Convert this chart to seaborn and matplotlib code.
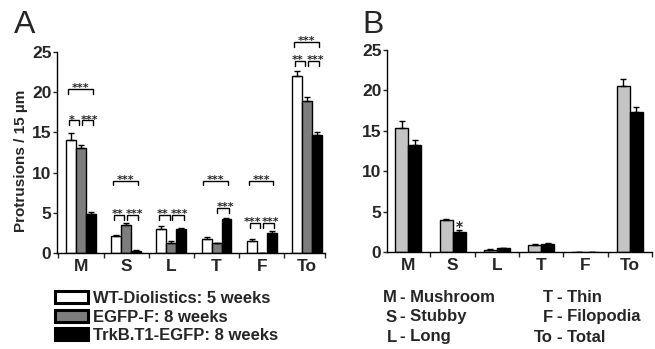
import matplotlib
matplotlib.use("Agg")
import matplotlib.pyplot as plt
from matplotlib.patches import Patch
from matplotlib.container import BarContainer
import seaborn as sns
import pandas as pd
import numpy as np

# ---------------- data ----------------
categories = ["M", "S", "L", "T", "F", "To"]

groupsA = ["WT-Diolistics: 5 weeks", "EGFP-F: 8 weeks", "TrkB.T1-EGFP: 8 weeks"]
wt_vals = [14.0, 2.1, 3.0, 1.8, 1.5, 22.0]
wt_err = [0.9, 0.2, 0.3, 0.25, 0.3, 0.6]
egfp_vals = [13.0, 3.5, 1.3, 1.2, 0.05, 18.9]
egfp_err = [0.4, 0.2, 0.2, 0.1, 0.0, 0.5]
trkb_vals = [4.9, 0.3, 3.0, 4.2, 2.5, 14.7]
trkb_err = [0.2, 0.05, 0.1, 0.2, 0.2, 0.3]

groupsB = ["B1", "B2"]
b1_vals = [15.4, 3.9, 0.3, 0.9, 0.0, 20.6]
b1_err = [0.8, 0.2, 0.05, 0.1, 0.0, 0.8]
b2_vals = [13.2, 2.5, 0.5, 1.0, 0.05, 17.3]
b2_err = [0.7, 0.2, 0.05, 0.15, 0.0, 0.6]

# significance brackets for panel A: (category, bar i, bar j, level, label)
bracketsA = [
    ("M", 0, 1, 16.5, "*"), ("M", 1, 2, 16.5, "***"), ("M", 0, 2, 20.4, "***"),
    ("S", 0, 1, 4.75, "**"), ("S", 1, 2, 4.75, "***"), ("S", 0, 2, 9.0, "***"),
    ("L", 0, 1, 4.75, "**"), ("L", 1, 2, 4.75, "***"),
    ("T", 1, 2, 5.6, "***"), ("T", 0, 2, 9.0, "***"),
    ("F", 0, 1, 3.75, "***"), ("F", 1, 2, 3.75, "***"), ("F", 0, 2, 9.0, "***"),
    ("To", 0, 1, 23.9, "**"), ("To", 1, 2, 23.9, "***"), ("To", 0, 2, 26.25, "***"),
]
# significance in panel B: (category, bar, label)
starsB = [("S", 1, "*")]

legendB_left = [("M", "Mushroom"), ("S", "Stubby"), ("L", "Long")]
legendB_right = [("T", "Thin"), ("F", "Filopodia"), ("To", "Total")]

yticks = [0, 5, 10, 15, 20, 25]

# ---------------- style ----------------
sns.set_theme(style="ticks")
plt.rcParams["font.family"] = ["Liberation Sans", "DejaVu Sans"]
plt.rcParams["font.weight"] = "bold"

W, H = 655, 349
fig = plt.figure(figsize=(W / 100, H / 100), dpi=100)

def fx(px):
    return px / W

def fy(py):
    return 1 - py / H

axA = fig.add_axes([fx(57), fy(253), fx(325 - 57), (253 - 52) / H])
axB = fig.add_axes([fx(387), fy(252), fx(652 - 387), (252 - 50) / H])

dfA = pd.DataFrame({
    "cat": categories * 3,
    "group": [groupsA[0]] * 6 + [groupsA[1]] * 6 + [groupsA[2]] * 6,
    "val": wt_vals + egfp_vals + trkb_vals,
})
errA = [wt_err, egfp_err, trkb_err]
dfB = pd.DataFrame({
    "cat": categories * 2,
    "group": [groupsB[0]] * 6 + [groupsB[1]] * 6,
    "val": b1_vals + b2_vals,
})
errB = [b1_err, b2_err]

palA = ["#ffffff", "#7d7d7d", "#000000"]
palB = ["#c4c4c4", "#000000"]

sns.barplot(data=dfA, x="cat", y="val", hue="group", palette=palA, order=categories,
            hue_order=groupsA, width=0.66, edgecolor="black", linewidth=1.0,
            errorbar=None, legend=False, ax=axA)
sns.barplot(data=dfB, x="cat", y="val", hue="group", palette=palB, order=categories,
            hue_order=groupsB, width=0.59, edgecolor="black", linewidth=1.0,
            errorbar=None, legend=False, ax=axB)

def bar_geom(ax):
    # returns centers[h][c], tops[h][c]
    centers, tops = [], []
    for cont in ax.containers:
        if not isinstance(cont, BarContainer):
            continue
        centers.append([p.get_x() + p.get_width() / 2 for p in cont.patches])
        tops.append([p.get_height() for p in cont.patches])
    return centers, tops

centersA, topsA = bar_geom(axA)
centersB, topsB = bar_geom(axB)

for ax, errs, centers, tops in ((axA, errA, centersA, topsA), (axB, errB, centersB, topsB)):
    for h, (cs, ts) in enumerate(zip(centers, tops)):
        e = np.array(errs[h])
        ax.errorbar(cs, ts, yerr=[np.zeros_like(e), e], fmt="none", ecolor="black",
                    elinewidth=1.0, capsize=2.5, capthick=1.0, zorder=1)

STAR_FONT = ["DejaVu Sans"]

# brackets
for cat, i, j, lvl, lab in bracketsA:
    c = categories.index(cat)
    x1 = centersA[i][c]
    x2 = centersA[j][c]
    shift = 0.0
    if j - i == 1:
        if i == 0:
            x1 -= 0.05
            x2 -= 0.04
            shift = -0.045
        else:
            x1 += 0.02
            x2 += 0.05
            shift = 0.045
    else:
        x1 -= 0.07
        x2 += 0.04
    leg = 0.6
    axA.plot([x1, x1, x2, x2], [lvl - leg, lvl, lvl, lvl - leg], color="black",
             lw=1.0, clip_on=False, solid_joinstyle="miter")
    axA.text((x1 + x2) / 2 + shift, lvl - 0.3, lab, ha="center", va="baseline",
             fontsize=8, fontweight="bold", family=STAR_FONT, clip_on=False)

for cat, h, lab in starsB:
    c = categories.index(cat)
    axB.text(centersB[h][c], topsB[h][c] + errB[h][c] - 0.1, lab, ha="center",
             va="baseline", fontsize=10, fontweight="bold", family=STAR_FONT)

# axes formatting
xlims = {axA: (-0.53, 5.4), axB: (-0.48, 5.5)}
for ax in (axA, axB):
    lo, hi = xlims[ax]
    ax.set_ylim(0, 25)
    ax.set_xlim(lo, hi)
    ax.set_yticks(yticks)
    ax.set_yticklabels([str(t) for t in yticks], fontsize=12.5, fontweight="bold")
    ax.set_xticks(range(len(categories)))
    ax.set_xticklabels(categories, fontsize=12.5, fontweight="bold")
    minor = [b for b in np.arange(-0.5, 5.51, 1.0) if lo <= b <= hi]
    if hi not in minor:
        minor.append(hi)
    ax.set_xticks(minor, minor=True)
    ax.tick_params(axis="x", which="major", length=0, pad=4)
    ax.tick_params(axis="x", which="minor", length=3.5, width=1.0, direction="out")
    ax.tick_params(axis="y", length=3, width=1.0, pad=1.0)
    ax.set_xlabel("")
    ax.set_ylabel("")
    for s in ("top", "right"):
        ax.spines[s].set_visible(False)
    for s in ("left", "bottom"):
        ax.spines[s].set_linewidth(1.0)
        ax.spines[s].set_color("black")
    ax.set_facecolor("white")

axA.set_ylabel("Protrusions / 15 µm", fontsize=11, fontweight="bold")
axA.yaxis.set_label_coords(-0.11, 0.46)

# panel letters
fig.text(fx(14), fy(33), "A", fontsize=23, fontweight="normal", ha="left", va="baseline")
fig.text(fx(362), fy(33), "B", fontsize=23, fontweight="normal", ha="left", va="baseline")

# legend A
handles = [Patch(facecolor=col, edgecolor="black", linewidth=2.2) for col in palA]
fig.legend(handles, groupsA, loc="center left", bbox_to_anchor=(fx(55), fy(317)),
           frameon=False, prop={"size": 12, "weight": "bold"}, handlelength=2.0,
           handleheight=0.72, handletextpad=0.3, labelspacing=0.22, borderpad=0,
           borderaxespad=0)

# legend B (abbreviation key)
rows_y = [298, 317, 337]
for (ab, name), ry in zip(legendB_left, rows_y):
    fig.text(fx(397), fy(ry), ab, ha="right", va="center", fontsize=12, fontweight="bold")
    fig.text(fx(400), fy(ry), "- " + name, ha="left", va="center", fontsize=12, fontweight="bold")
for (ab, name), ry in zip(legendB_right, rows_y):
    fig.text(fx(553), fy(ry), ab, ha="right", va="center", fontsize=12, fontweight="bold")
    fig.text(fx(557), fy(ry), "- " + name, ha="left", va="center", fontsize=12, fontweight="bold")

fig.savefig("out.png", dpi=100, facecolor="white")
